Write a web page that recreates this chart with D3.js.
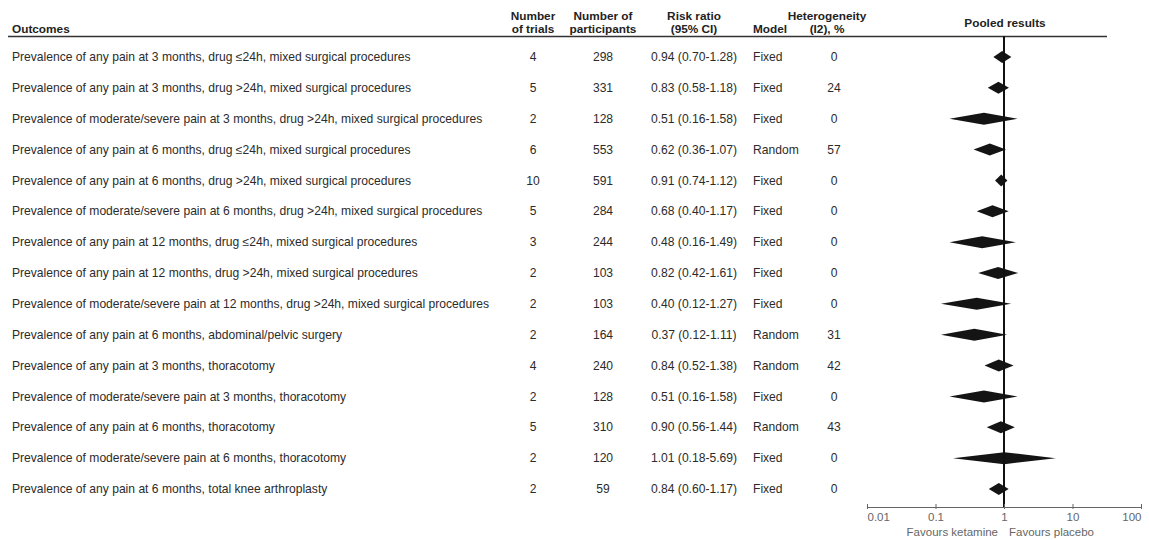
<!DOCTYPE html>
<html>
<head>
<meta charset="utf-8">
<script src="https://cdn.jsdelivr.net/npm/d3@7"></script>
<style>
  html, body { margin: 0; padding: 0; background: #fff; }
  svg { display: block; }
  text { font-family: "Liberation Sans", Arial, sans-serif; }
</style>
</head>
<body>
<svg id="chart" width="1149" height="540"></svg>
<script>
// Pooled outcomes: ketamine vs placebo, chronic postsurgical pain
const outcomes = [
  "Prevalence of any pain at 3 months, drug \u226424h, mixed surgical procedures",
  "Prevalence of any pain at 3 months, drug >24h, mixed surgical procedures",
  "Prevalence of moderate/severe pain at 3 months, drug >24h, mixed surgical procedures",
  "Prevalence of any pain at 6 months, drug \u226424h, mixed surgical procedures",
  "Prevalence of any pain at 6 months, drug >24h, mixed surgical procedures",
  "Prevalence of moderate/severe pain at 6 months, drug >24h, mixed surgical procedures",
  "Prevalence of any pain at 12 months, drug \u226424h, mixed surgical procedures",
  "Prevalence of any pain at 12 months, drug >24h, mixed surgical procedures",
  "Prevalence of moderate/severe pain at 12 months, drug >24h, mixed surgical procedures",
  "Prevalence of any pain at 6 months, abdominal/pelvic surgery",
  "Prevalence of any pain at 3 months, thoracotomy",
  "Prevalence of moderate/severe pain at 3 months, thoracotomy",
  "Prevalence of any pain at 6 months, thoracotomy",
  "Prevalence of moderate/severe pain at 6 months, thoracotomy",
  "Prevalence of any pain at 6 months, total knee arthroplasty"
];
const trials       = [4, 5, 2, 6, 10, 5, 3, 2, 2, 2, 4, 2, 5, 2, 2];
const participants = [298, 331, 128, 553, 591, 284, 244, 103, 103, 164, 240, 128, 310, 120, 59];
const riskRatio    = [0.94, 0.83, 0.51, 0.62, 0.91, 0.68, 0.48, 0.82, 0.40, 0.37, 0.84, 0.51, 0.90, 1.01, 0.84];
const ciLower      = [0.70, 0.58, 0.16, 0.36, 0.74, 0.40, 0.16, 0.42, 0.12, 0.12, 0.52, 0.16, 0.56, 0.18, 0.60];
const ciUpper      = [1.28, 1.18, 1.58, 1.07, 1.12, 1.17, 1.49, 1.61, 1.27, 1.11, 1.38, 1.58, 1.44, 5.69, 1.17];
const models       = ["Fixed", "Fixed", "Fixed", "Random", "Fixed", "Fixed", "Fixed", "Fixed", "Fixed", "Random", "Random", "Fixed", "Random", "Fixed", "Fixed"];
const heterogeneity = [0, 24, 0, 57, 0, 0, 0, 0, 0, 31, 42, 0, 43, 0, 0];
const axisTicks    = [0.01, 0.1, 1, 10, 100];
const axisTickLabels = ["0.01", "0.1", "1", "10", "100"];

const svg = d3.select("#chart");
const textColor = "#2b2b2b";
const axisColor = "#666";
const axisFont = "DejaVu Sans, Verdana, sans-serif";

const x = d3.scaleLog().domain([0.01, 100]).range([867, 1141]);
const y = d3.scalePoint().domain(d3.range(outcomes.length)).range([57, 489]);

const fmt = d3.format(".2f");

// Column headers
const header = svg.append("g")
  .attr("font-weight", "bold")
  .attr("font-size", 11.8)
  .attr("fill", "#222");

function headerLines(cx, lines, anchor) {
  const t = header.append("text").attr("text-anchor", anchor || "middle");
  const base = lines.length === 1 ? 33 : 20;
  lines.forEach((s, i) => {
    t.append("tspan").attr("x", cx).attr("y", base + i * 13).text(s);
  });
}
headerLines(12, ["Outcomes"], "start");
headerLines(533, ["Number", "of trials"]);
headerLines(603, ["Number of", "participants"]);
headerLines(694, ["Risk ratio", "(95% CI)"]);
headerLines(753, ["Model"], "start");
headerLines(827, ["Heterogeneity", "(I2), %"]);
header.append("text").attr("x", 1005).attr("y", 27).attr("text-anchor", "middle").text("Pooled results");

svg.append("line")
  .attr("x1", 8).attr("x2", 1107)
  .attr("y1", 36.5).attr("y2", 36.5)
  .attr("stroke", "#333").attr("stroke-width", 1.5);

// Table body
const rows = svg.append("g")
  .attr("font-size", 12.1)
  .attr("fill", textColor)
  .selectAll("g")
  .data(d3.range(outcomes.length))
  .join("g")
  .attr("transform", i => `translate(0,${y(i) + 4.2})`);

rows.append("text").attr("x", 12).text(i => outcomes[i]);
rows.append("text").attr("x", 533).attr("text-anchor", "middle").text(i => trials[i]);
rows.append("text").attr("x", 603).attr("text-anchor", "middle").text(i => participants[i]);
rows.append("text").attr("x", 694).attr("text-anchor", "middle")
  .text(i => `${fmt(riskRatio[i])} (${fmt(ciLower[i])}-${fmt(ciUpper[i])})`);
rows.append("text").attr("x", 753).text(i => models[i]);
rows.append("text").attr("x", 834).attr("text-anchor", "middle").text(i => heterogeneity[i]);

// Pooled estimate diamonds
const halfH = 6;
svg.append("g")
  .selectAll("path")
  .data(d3.range(outcomes.length))
  .join("path")
  .attr("fill", "#141414")
  .attr("d", i => {
    const yc = y(i);
    return `M${x(ciLower[i])},${yc}L${x(riskRatio[i])},${yc - halfH}L${x(ciUpper[i])},${yc}L${x(riskRatio[i])},${yc + halfH}Z`;
  });

// Line of no effect
svg.append("line")
  .attr("x1", x(1)).attr("x2", x(1))
  .attr("y1", 36).attr("y2", 508)
  .attr("stroke", "#111").attr("stroke-width", 2);

// Log axis
const axisG = svg.append("g").attr("transform", "translate(0,507)");
axisG.call(d3.axisBottom(x).tickValues(axisTicks).tickSize(0).tickFormat(""));
axisG.select(".domain").attr("stroke", axisColor).attr("stroke-width", 1);
axisG.selectAll(".tick").append("line")
  .attr("y1", -3).attr("y2", 2)
  .attr("stroke", axisColor).attr("stroke-width", 1);
axisG.selectAll(".tick").append("text")
  .attr("y", 14)
  .attr("fill", axisColor)
  .attr("font-family", axisFont)
  .attr("font-size", 11.5)
  .attr("text-anchor", (d, i) => i === 0 ? "start" : i === axisTicks.length - 1 ? "end" : "middle")
  .text((d, i) => axisTickLabels[i]);

svg.append("text")
  .attr("x", x(1) - 6).attr("y", 536)
  .attr("text-anchor", "end")
  .attr("fill", axisColor)
  .attr("font-family", axisFont)
  .attr("font-size", 11.5)
  .text("Favours ketamine");
svg.append("text")
  .attr("x", x(1) + 5).attr("y", 536)
  .attr("text-anchor", "start")
  .attr("fill", axisColor)
  .attr("font-family", axisFont)
  .attr("font-size", 11.5)
  .text("Favours placebo");
</script>
</body>
</html>
